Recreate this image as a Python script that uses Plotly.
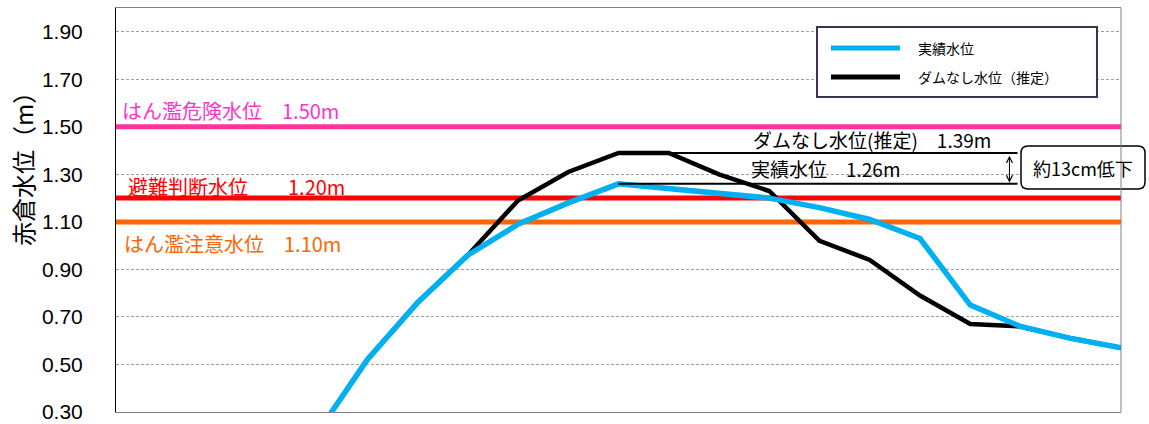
import plotly.graph_objects as go

# ---- data ----
time_steps = [4, 5, 6, 7, 8, 9, 10, 11, 12, 13, 14, 15, 16, 17, 18, 19, 20]
actual_level = [0.21, 0.52, 0.76, 0.96, 1.09, 1.18, 1.26, 1.24, 1.22, 1.20, 1.16, 1.11, 1.03, 0.75, 0.66, 0.61, 0.57]
no_dam_level = [0.21, 0.52, 0.76, 0.96, 1.19, 1.31, 1.39, 1.39, 1.30, 1.23, 1.02, 0.94, 0.79, 0.67, 0.66, 0.61, 0.57]
series_names = ["実績水位", "ダムなし水位（推定）"]

threshold_values = [1.50, 1.20, 1.10]
threshold_labels = ["はん濫危険水位　1.50m", "避難判断水位　　1.20m", "はん濫注意水位　1.10m"]
threshold_colors = ["#FF3399", "#FF0000", "#FF6600"]
threshold_text_colors = ["#FF33CC", "#FF0000", "#FF6600"]
threshold_label_y = [1.567, 1.247, 1.007]

y_ticks = [0.30, 0.50, 0.70, 0.90, 1.10, 1.30, 1.50, 1.70, 1.90]
y_range = [0.30, 2.00]
x_range = [0, 20]

peak_no_dam = 1.39
peak_actual = 1.26
peak_x_start = 10
peak_x_end = 18

JP = "Noto Sans CJK JP"
LAT = "Liberation Sans"

fig = go.Figure()

# threshold lines
for v, c in zip(threshold_values, threshold_colors):
    fig.add_trace(go.Scatter(x=x_range, y=[v, v], mode="lines",
                             line=dict(color=c, width=5), showlegend=False, hoverinfo="skip"))

fig.add_trace(go.Scatter(x=time_steps, y=no_dam_level, mode="lines", name=series_names[1],
                         line=dict(color="#000000", width=4.5), showlegend=False))
fig.add_trace(go.Scatter(x=time_steps, y=actual_level, mode="lines", name=series_names[0],
                         line=dict(color="#00B0F0", width=5.5), showlegend=False))

shapes = []
annotations = []

# peak reference lines
for v in [peak_no_dam, peak_actual]:
    shapes.append(dict(type="line", xref="x", yref="y", x0=peak_x_start, x1=peak_x_end - 0.06,
                       y0=v, y1=v, line=dict(color="#000000", width=2)))

# double arrow
annotations.append(dict(xref="x", yref="y", x=17.78, y=peak_actual + 0.005, ax=17.78, ay=peak_no_dam - 0.005,
                        axref="x", ayref="y", showarrow=True, arrowhead=5, arrowside="end+start",
                        arrowsize=1.2, arrowwidth=1, arrowcolor="#000000", text=""))

annotations.append(dict(xref="x", yref="y", x=12.64, y=peak_no_dam + 0.055, text="ダムなし水位(推定)　1.39m",
                        showarrow=False, xanchor="left", yanchor="middle",
                        font=dict(family=JP, size=19, color="#000000")))
annotations.append(dict(xref="x", yref="y", x=12.6, y=peak_actual + 0.064, text="実績水位　1.26m",
                        showarrow=False, xanchor="left", yanchor="middle",
                        font=dict(family=JP, size=19, color="#000000")))


def px2x(px):
    return (px - 116) / 1005.0


def py2y(py):
    return (412 - py) / 404.0


# reduction box (extends outside plot)
shapes.append(dict(type="path", xref="paper", yref="paper",
                   path=("M {a},{t} L {b},{t} Q {r},{t} {r},{t2} L {r},{b2} Q {r},{bt} {b},{bt} "
                         "L {a},{bt} Q {l},{bt} {l},{b2} L {l},{t2} Q {l},{t} {a},{t} Z").format(
                       l=px2x(1021), r=px2x(1145), a=px2x(1028), b=px2x(1138),
                       t=py2y(146), bt=py2y(189), t2=py2y(153), b2=py2y(182)),
                   line=dict(color="#000000", width=1.5), fillcolor="#FFFFFF"))
annotations.append(dict(xref="paper", yref="paper", x=px2x(1083), y=py2y(168), text="約13cm低下",
                        showarrow=False, xanchor="center", yanchor="middle",
                        font=dict(family=JP, size=18, color="#000000")))

# threshold labels
for lab, col, ly, lx in zip(threshold_labels, threshold_text_colors, threshold_label_y, [0.08, 0.2, 0.12]):
    annotations.append(dict(xref="x", yref="y", x=lx, y=ly, text=lab, showarrow=False,
                            xanchor="left", yanchor="middle",
                            font=dict(family=JP, size=20, color=col)))

# custom legend
shapes.append(dict(type="rect", xref="paper", yref="paper", x0=px2x(817), x1=px2x(1097),
                   y0=py2y(97), y1=py2y(27), line=dict(color="#3F3151", width=2), fillcolor="#FFFFFF"))
legend_rows = [48, 77]
legend_colors = ["#00B0F0", "#000000"]
for name, col, ry in zip(series_names, legend_colors, legend_rows):
    shapes.append(dict(type="line", xref="paper", yref="paper", x0=px2x(831), x1=px2x(900),
                       y0=py2y(ry), y1=py2y(ry), line=dict(color=col, width=5)))
    annotations.append(dict(xref="paper", yref="paper", x=px2x(916), y=py2y(ry), text=name,
                            showarrow=False, xanchor="left", yanchor="middle",
                            font=dict(family=JP, size=14, color="#000000")))

# y-axis title
annotations.append(dict(xref="paper", yref="paper", x=px2x(22), y=py2y(163), text="赤倉水位（m）",
                        textangle=-90, showarrow=False, xanchor="center", yanchor="middle",
                        font=dict(family=JP, size=24, color="#000000")))

fig.update_layout(
    width=1149, height=424,
    margin=dict(l=116, r=28, t=8, b=12, autoexpand=False),
    plot_bgcolor="#FFFFFF", paper_bgcolor="#FFFFFF",
    shapes=shapes, annotations=annotations,
    showlegend=False,
    xaxis=dict(range=x_range, showticklabels=False, showgrid=False, zeroline=False, automargin=False,
               showline=True, linecolor="#808080", linewidth=1, mirror=True, ticks=""),
    yaxis=dict(range=y_range, tickvals=y_ticks, tickformat=".2f", automargin=False,
               tickfont=dict(family=LAT, size=21, color="#000000"), ticklabelstandoff=28,
               showgrid=True, gridcolor="#A0A0A0", griddash="3px,2px", gridwidth=1,
               zeroline=False, showline=True, linecolor="#000000", linewidth=1, mirror=False,
               ticks=""),
)
# right border
fig.add_shape(type="line", xref="paper", yref="paper", x0=1, x1=1, y0=0, y1=1,
              line=dict(color="#808080", width=1))

fig.write_html("out.html")
